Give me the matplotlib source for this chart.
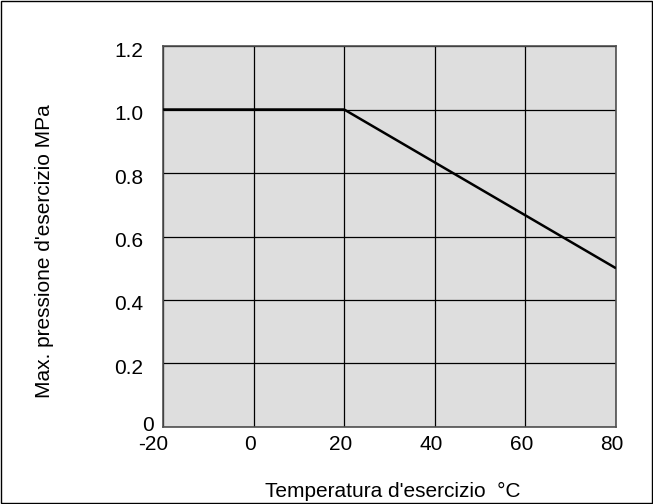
import numpy as np
import matplotlib.pyplot as plt
import matplotlib.transforms as mtransforms

plt.rcParams['font.family'] = ['Liberation Sans', 'DejaVu Sans']
plt.rcParams['axes.unicode_minus'] = False

# data
temp = [-20, 20, 80]
pressure = [1.0, 1.0, 0.5]
xticks = [-20, 0, 20, 40, 60, 80]
yticks = [0, 0.2, 0.4, 0.6, 0.8, 1.0, 1.2]
ytick_labels = ['0', '0.2', '0.4', '0.6', '0.8', '1.0', '1.2']

fig = plt.figure(figsize=(6.53, 5.04), dpi=100)
ax = fig.add_axes([0.2496, 0.1528, 0.6937, 0.7559])
ax.set_facecolor('#dedede')

ax.plot(temp, pressure, color='black', linewidth=1.8, solid_capstyle='butt', zorder=3)

ax.set_xlim(-20, 80)
ax.set_ylim(0, 1.2)
ax.set_xticks(xticks)
ax.set_yticks(yticks)
ax.set_yticklabels(ytick_labels)
ax.grid(True, color='black', linewidth=0.9)
ax.set_axisbelow(True)
ax.tick_params(axis='both', length=0, labelsize=15)
ax.tick_params(axis='x', pad=6)
ax.tick_params(axis='y', pad=14)
for s in ax.spines.values():
    s.set_color('#505050')
    s.set_linewidth(1.2)

def shift(lbl, dx, dy):
    # dx, dy in pixels
    lbl.set_transform(lbl.get_transform() +
                      mtransforms.ScaledTranslation(dx / 100, dy / 100, fig.dpi_scale_trans))

xlbls = ax.get_xticklabels()
for lbl in xlbls[1:]:
    shift(lbl, -4, 0)
shift(xlbls[0], -10, 0)
ylbls = ax.get_yticklabels()
for lbl in ylbls[1:]:
    shift(lbl, 0, -3)
shift(ylbls[0], 10, 3)

fig.text(0.601, 0.025, "Temperatura d'esercizio  \u00b0C", ha='center', va='center', fontsize=15)
fig.text(0.068, 0.502, "Max. pressione d'esercizio MPa", ha='center', va='center',
         rotation=90, fontsize=15)

# outer frame
fig.patches.append(plt.Rectangle((0.001, 0.001), 0.998, 0.998, transform=fig.transFigure,
                                 fill=False, edgecolor='black', linewidth=1))

fig.savefig('out.png', dpi=100)
